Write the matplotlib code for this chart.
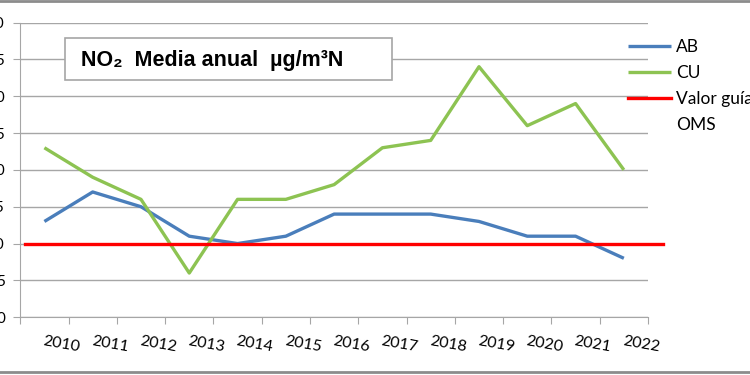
import matplotlib
matplotlib.use("Agg")
from matplotlib import pyplot as plt
from matplotlib.patches import Rectangle
from matplotlib.lines import Line2D

years = ["2010", "2011", "2012", "2013", "2014", "2015", "2016",
         "2017", "2018", "2019", "2020", "2021", "2022"]
ab = [13, 17, 15, 11, 10, 11, 14, 14, 14, 13, 11, 11, 8]
cu = [23, 19, 16, 6, 16, 16, 18, 23, 24, 34, 26, 29, 20]
oms = 10
yticks = [0, 5, 10, 15, 20, 25, 30, 35, 40]

fig = plt.figure(figsize=(7.5, 3.75), dpi=100)
ax = fig.add_axes([0.027, 0.154, 0.837, 0.786])

x = list(range(len(years)))
ax.plot(x, ab, color="#4A7EBB", lw=2.4, label="AB", solid_capstyle="butt")
ax.plot(x, cu, color="#8DC352", lw=2.4, label="CU", solid_capstyle="butt")
ax.axhline(oms, xmin=0.008, xmax=1.024, color="#FF0000", lw=2.4,
           clip_on=False, label="Valor guía")
# second line of the guide label, no handle
ax.plot([], [], color="none", label="OMS")

ax.set_xlim(-0.5, len(years) - 0.5)
ax.set_ylim(0, 40)
ax.set_yticks(yticks)
ax.set_yticklabels([str(v) for v in yticks], fontfamily="Lato", fontsize=11)
ax.yaxis.grid(True, color="#A6A6A6", lw=1)
ax.set_axisbelow(True)

ax.set_xticks([i - 0.5 for i in range(len(years) + 1)])
ax.set_xticklabels([])
ax.set_xticks(x, minor=True)
ax.set_xticklabels(years, minor=True, rotation=-10, ha="left",
                   rotation_mode="anchor", fontfamily="Lato", fontsize=11.5)
ax.tick_params(axis="x", which="major", length=5, color="#A6A6A6")
ax.tick_params(axis="x", which="minor", length=0, pad=12)
ax.tick_params(axis="y", length=5, color="#A6A6A6", pad=6)

for s in ["top", "right"]:
    ax.spines[s].set_visible(False)
ax.spines["left"].set_color("#A6A6A6")
ax.spines["bottom"].set_color("#A6A6A6")

# title box
ax.add_patch(Rectangle((0.072, 0.805), 0.52, 0.142, transform=ax.transAxes,
                       facecolor="white", edgecolor="#A6A6A6", lw=1.2, zorder=5))
ax.text(0.096, 0.872, "NO\u2082  Media anual  \u00b5g/m\u00b3N", transform=ax.transAxes,
        fontsize=15.5, fontweight="bold", va="center", ha="left", zorder=6,
        family=["Liberation Sans", "DejaVu Sans"])

leg = ax.legend(loc="upper left", bbox_to_anchor=(0.968, 0.944), frameon=False,
                borderpad=0, borderaxespad=0,
                handlelength=2.5, handletextpad=0.25, labelspacing=0.57,
                prop={"family": "Lato", "size": 12.5})

fig.add_artist(Line2D([0, 1], [0.997, 0.997], color="#8C8C8C", lw=2))
fig.add_artist(Line2D([0, 1], [0.007, 0.007], color="#8C8C8C", lw=2))

fig.savefig("out.png", dpi=100)
